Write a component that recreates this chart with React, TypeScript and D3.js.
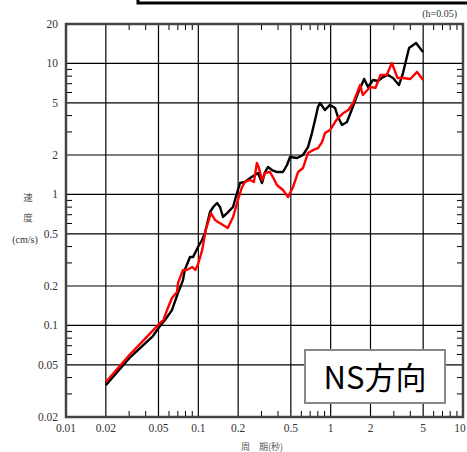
import React from "react";
import * as d3 from "d3";

const blackPeriods = [0.02, 0.0305, 0.0454, 0.0513, 0.056, 0.0632, 0.0702, 0.0766, 0.079, 0.0865, 0.0912, 0.0995, 0.1066, 0.1122, 0.1225, 0.1296, 0.1385, 0.1458, 0.1536, 0.165, 0.1735, 0.1828, 0.196, 0.2065, 0.225, 0.246, 0.2825, 0.303, 0.319, 0.336, 0.36, 0.393, 0.436, 0.468, 0.493, 0.557, 0.618, 0.674, 0.722, 0.762, 0.802, 0.83, 0.906, 0.989, 1.079, 1.136, 1.218, 1.328, 1.46, 1.61, 1.79, 1.915, 2.09, 2.28, 2.49, 2.71, 2.96, 3.28, 3.52, 3.91, 4.42, 4.99];
const blackValues = [0.035, 0.0571, 0.083, 0.099, 0.11, 0.131, 0.177, 0.222, 0.265, 0.333, 0.333, 0.397, 0.449, 0.508, 0.734, 0.802, 0.861, 0.802, 0.673, 0.721, 0.76, 0.802, 1.026, 1.222, 1.245, 1.334, 1.459, 1.222, 1.483, 1.618, 1.535, 1.483, 1.483, 1.678, 1.931, 1.896, 2.0, 2.3, 2.94, 3.7, 4.65, 4.99, 4.41, 4.82, 4.57, 3.9, 3.39, 3.57, 4.57, 5.94, 7.61, 6.61, 7.48, 7.35, 7.87, 8.16, 7.74, 6.84, 8.45, 13.1, 14.3, 12.2];

const redPeriods = [0.02, 0.0305, 0.0513, 0.0545, 0.058, 0.0632, 0.069, 0.0702, 0.0766, 0.082, 0.09, 0.095, 0.099, 0.107, 0.1137, 0.1245, 0.1337, 0.141, 0.1536, 0.167, 0.183, 0.199, 0.214, 0.225, 0.246, 0.263, 0.277, 0.287, 0.303, 0.319, 0.348, 0.366, 0.393, 0.436, 0.476, 0.52, 0.567, 0.618, 0.674, 0.734, 0.802, 0.86, 0.906, 0.989, 1.079, 1.136, 1.25, 1.36, 1.48, 1.67, 1.75, 1.99, 2.18, 2.38, 2.65, 2.9, 3.2, 3.52, 4.0, 4.5, 4.99];
const redValues = [0.037, 0.0602, 0.104, 0.11, 0.131, 0.162, 0.18, 0.211, 0.265, 0.265, 0.279, 0.265, 0.289, 0.377, 0.535, 0.721, 0.638, 0.616, 0.585, 0.555, 0.673, 0.906, 1.14, 1.245, 1.289, 1.245, 1.738, 1.592, 1.289, 1.459, 1.483, 1.358, 1.18, 1.081, 0.955, 1.14, 1.483, 1.592, 2.07, 2.18, 2.26, 2.51, 2.94, 3.1, 3.57, 3.83, 4.19, 4.41, 4.99, 6.84, 5.74, 6.61, 6.5, 8.16, 8.16, 10.07, 7.74, 7.74, 7.61, 8.61, 7.48];

const xTickLabels = ["0.01", "0.02", "0.05", "0.1", "0.2", "0.5", "1", "2", "5", "10"];
const yTickLabels = ["20", "10", "5", "2", "1", "0.5", "0.2", "0.1", "0.05", "0.02"];
const xGrid = [0.02, 0.05, 0.1, 0.2, 0.5, 1, 2, 5];
const yGrid = [10, 5, 2, 1, 0.5, 0.2, 0.1, 0.05];
const xMinor = [0.03, 0.04, 0.06, 0.07, 0.08, 0.09, 0.3, 0.4, 0.6, 0.7, 0.8, 0.9, 3, 4, 6, 7, 8, 9];
const yMinor = [9, 8, 7, 6, 4, 3, 0.9, 0.8, 0.7, 0.6, 0.4, 0.3, 0.09, 0.08, 0.07, 0.06, 0.04, 0.03];

const L = 66, R = 463, T = 24, B = 417;

export default function App() {
  const x = d3.scaleLog().domain([0.01, 10]).range([L, R]);
  const y = d3.scaleLog().domain([0.02, 20]).range([B, T]);
  const line = d3.line<[number, number]>().x(d => x(d[0])).y(d => y(d[1]));
  const blackPts = blackPeriods.map((p, i) => [p, blackValues[i]] as [number, number]);
  const redPts = redPeriods.map((p, i) => [p, redValues[i]] as [number, number]);
  const serif = "Liberation Serif, Tinos, Times New Roman, DejaVu Serif, serif";
  const cjk = "Noto Sans CJK JP, sans-serif";
  return (
    <svg width={467} height={452} style={{ position: "absolute", left: 0, top: 0, background: "#fff" }}>
      <rect x={0} y={0} width={467} height={452} fill="#fff" />
      <rect x={138} y={-10} width={340} height={13} fill="none" stroke="#000" strokeWidth={3} />
      <text x={457} y={17} textAnchor="end" style={{ fontFamily: serif, fontSize: 10 }} fill="#333">(h=0.05)</text>
      {xGrid.map(v => (
        <line key={"xg" + v} x1={x(v)} x2={x(v)} y1={T} y2={B} stroke="#000" strokeWidth={1.2} />
      ))}
      {yGrid.map(v => (
        <line key={"yg" + v} x1={L} x2={R} y1={y(v)} y2={y(v)} stroke="#000" strokeWidth={1.2} />
      ))}
      {xMinor.map(v => (
        <g key={"xm" + v}>
          <line x1={x(v)} x2={x(v)} y1={T} y2={T + 6} stroke="#000" strokeWidth={1} />
          <line x1={x(v)} x2={x(v)} y1={B} y2={B - 6} stroke="#000" strokeWidth={1} />
        </g>
      ))}
      {yMinor.map(v => (
        <g key={"ym" + v}>
          <line x1={L} x2={L + 6} y1={y(v)} y2={y(v)} stroke="#000" strokeWidth={1} />
          <line x1={R} x2={R - 6} y1={y(v)} y2={y(v)} stroke="#000" strokeWidth={1} />
        </g>
      ))}
      <path d={line(blackPts) || ""} fill="none" stroke="#000" strokeWidth={2.4} strokeLinejoin="round" />
      <path d={line(redPts) || ""} fill="none" stroke="#ff0000" strokeWidth={2.4} strokeLinejoin="round" />
      <rect x={L} y={T} width={R - L} height={B - T} fill="none" stroke="#444" strokeWidth={2.5} />
      {xTickLabels.map((t, i) => (
        <text key={"xt" + t} x={i === xTickLabels.length - 1 ? x(+t) - 3 : x(+t)} y={432} textAnchor="middle" style={{ fontFamily: serif, fontSize: 11.5 }} fill="#333">{t}</text>
      ))}
      {yTickLabels.map(t => (
        <text key={"yt" + t} x={58} y={y(+t) + 4} textAnchor="end" style={{ fontFamily: serif, fontSize: 11.5 }} fill="#333">{t}</text>
      ))}
      <text x={28} y={201} textAnchor="middle" style={{ fontFamily: cjk, fontSize: 9.5 }} fill="#555">速</text>
      <text x={28} y={221} textAnchor="middle" style={{ fontFamily: cjk, fontSize: 9.5 }} fill="#555">度</text>
      <text x={25} y={243} textAnchor="middle" style={{ fontFamily: serif, fontSize: 10 }} fill="#333">(cm/s)</text>
      <text x={262} y={450} textAnchor="middle" style={{ fontFamily: cjk, fontSize: 9 }} fill="#555">周　期(秒)</text>
      <rect x={305} y={350} width={140} height={53} fill="#fff" stroke="#888" strokeWidth={2} />
      <text x={375} y={389} textAnchor="middle" style={{ fontFamily: cjk, fontSize: 31 }} fill="#000">NS方向</text>
    </svg>
  );
}
